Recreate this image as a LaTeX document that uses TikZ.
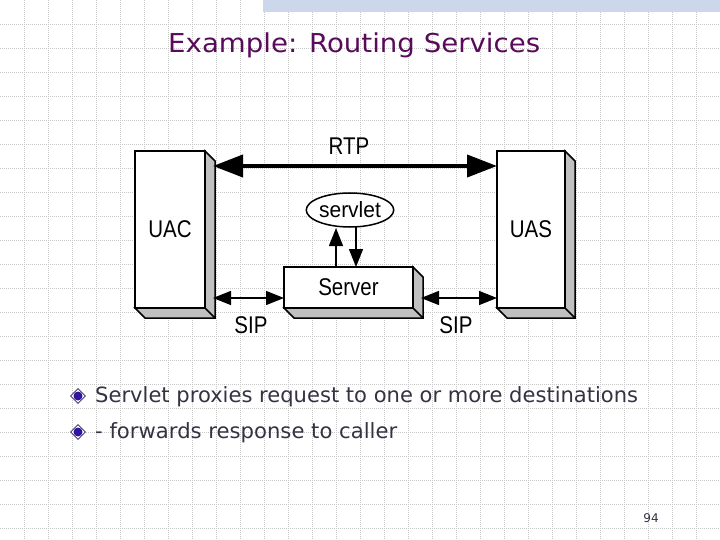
\documentclass[tikz,border=0pt]{standalone}
\usepackage{graphicx}
\usepackage{fontspec}
\setmainfont{DejaVu Sans}
\newfontfamily\arialf{Liberation Sans}
\usetikzlibrary{arrows.meta,shapes.geometric,calc}
\definecolor{titlecol}{RGB}{90,10,90}
\definecolor{textcol}{RGB}{51,51,68}
\definecolor{gridcol}{RGB}{200,200,200}
\definecolor{bandcol}{RGB}{205,215,235}
\definecolor{sidecol}{RGB}{192,192,192}
\definecolor{bulletcol}{RGB}{50,20,160}
\definecolor{bulletline}{RGB}{40,30,90}
\newcommand\tallt[1]{\scalebox{1}[1.18]{#1}}
\newcommand\boxsides[1]{%
  \draw[edge, fill=sidecol] (#1.north east) -- ++(10,10) -- ($(#1.south east)+(10,10)$) -- ($(#1.south west)+(10,10)$) -- (#1.south west) -- (#1.south east) -- cycle;
  \draw[edge] (#1.south east) -- ++(10,10);}
\begin{document}
\begin{tikzpicture}[x=1pt,y=-1pt,
  edge/.style={draw=black,line width=1.5pt,line join=miter},
  frontbox/.style={edge,fill=white,inner sep=0pt,outer sep=0pt,font=\arialf\fontsize{20.5}{24}\selectfont},
  lbl/.style={inner sep=0pt,font=\arialf\fontsize{20.5}{24}\selectfont},
  gridline/.style={draw=gridcol,line width=0.8pt,dash pattern=on 1pt off 1pt},
  bigarrow/.style={line width=4pt,{Triangle[length=30pt,width=22pt]}-{Triangle[length=30pt,width=22pt]}},
  smallarrow/.style={line width=1.3pt,{Triangle[length=18pt,width=14pt]}-{Triangle[length=18pt,width=14pt]}},
  onearrow/.style={line width=1.3pt,-{Triangle[length=18pt,width=14pt]}},
  bulletout/.style={diamond,draw=bulletline,fill=white,line width=0.7pt,minimum size=15pt,inner sep=0pt},
  bulletin/.style={circle,fill=bulletcol,minimum size=9pt,inner sep=0pt},
  bodytext/.style={anchor=base west,inner sep=0pt,text=textcol,font=\fontsize{21}{25}\selectfont}
]
\useasboundingbox (0,0) rectangle (720,540);
\fill[white] (0,0) rectangle (720,540);
% grid
\foreach \x in {24,48,...,696} \draw[gridline] (\x,0) -- (\x,540);
\foreach \y in {24,48,...,528} \draw[gridline] (0,\y) -- (720,\y);
% top band
\fill[bandcol] (263,0) rectangle (720,12);
% title
\node[anchor=base west,inner sep=0pt,text=titlecol,font=\fontsize{26}{30}\selectfont] (title) at (168,53) {\resizebox{372pt}{\height}{Example: Routing Services}};
% boxes
\node[frontbox,minimum width=70pt,minimum height=157pt] (uac) at (170,229.5) {\tallt{UAC}};
\boxsides{uac}
\node[frontbox,minimum width=68pt,minimum height=157pt] (uas) at (531,229.5) {\tallt{UAS}};
\boxsides{uas}
\node[frontbox,minimum width=129pt,minimum height=41pt] (srv) at (348.5,287.5) {\tallt{Server}};
\boxsides{srv}
\node[ellipse,edge,fill=white,minimum width=87pt,minimum height=34pt,inner sep=0pt,outer sep=0pt,font=\arialf\fontsize{21}{24}\selectfont] (sv) at (350,210) {\scalebox{1}[1.05]{servlet}};
% arrows
\draw[bigarrow] ($(uac.north east)+(8,15)$) -- ($(uas.north west)+(0,15)$);
\node[lbl] (rtp) at (349,146) {\tallt{RTP}};
\draw[smallarrow] ($(uac.south east)+(8,-10)$) -- ($(srv.south west)+(0,-10)$);
\draw[smallarrow] ($(srv.south east)+(8,-10)$) -- ($(uas.south west)+(0,-10)$);
\node[lbl] (sip1) at (251,325) {\tallt{SIP}};
\node[lbl] (sip2) at (456,325) {\tallt{SIP}};
\coordinate (upa) at ($(srv.north)+(-12.5,0)$);
\coordinate (dna) at ($(srv.north)+(7.5,0)$);
\draw[onearrow] (upa) -- ($(upa |- sv.south)+(0,1)$);
\draw[onearrow] ($(dna |- sv.south)+(0,0)$) -- (dna);
% bullets
\node[bulletout] (b1) at (78,396) {};
\node[bulletin] (b1c) at (b1) {};
\node[bulletout] (b2) at (78,432) {};
\node[bulletin] (b2c) at (b2) {};
\node[bodytext] (t1) at (95,402) {\resizebox{543pt}{\height}{Servlet proxies request to one or more destinations}};
\node[bodytext] (t2) at (95,438) {\resizebox{302pt}{\height}{- forwards response to caller}};
% page number
\node[anchor=base,inner sep=0pt,text=textcol,font=\fontsize{12}{14}\selectfont] (pg) at (651,522) {94};
\end{tikzpicture}
\end{document}
